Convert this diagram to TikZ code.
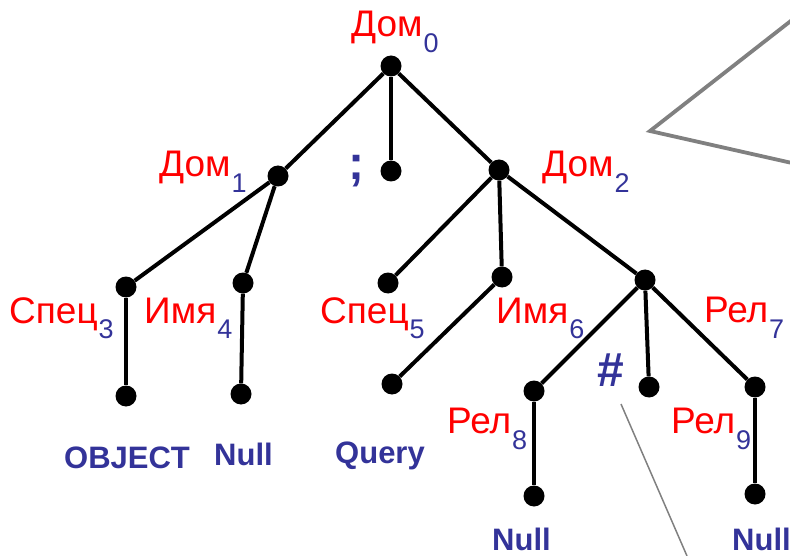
\documentclass[tikz,border=0pt]{standalone}
\usepackage{fontspec}
\setmainfont{Liberation Sans}
\definecolor{dblue}{RGB}{51,51,153}
\definecolor{lred}{RGB}{255,0,0}
\definecolor{lgray}{RGB}{128,128,128}
\newcommand{\mylbl}[2]{\textcolor{lred}{\fontsize{37}{42}\selectfont #1}\kern1pt\raisebox{-16pt}{\textcolor{dblue}{\fontsize{27}{30}\selectfont #2}}}
\begin{document}
\begin{tikzpicture}[x=1pt,y=-1pt,
  dot/.style={circle,fill=black,inner sep=0pt,minimum size=21pt},
  edge/.style={line width=4pt},
  lbl/.style={anchor=base west,inner sep=0pt},
  leaf/.style={anchor=base west,inner sep=0pt,text=dblue,font=\fontsize{31}{34}\selectfont\bfseries},
  sym/.style={anchor=base west,inner sep=0pt,text=dblue,font=\fontsize{48}{52}\selectfont\bfseries},
  gline/.style={draw=lgray,line width=3.8pt},
  thin/.style={draw=lgray,line width=1.5pt}]
\useasboundingbox (0,0) rectangle (790,556);
% dots
\node[dot] (r) at (391,66) {};
\node[dot] (d1) at (278,176) {};
\node[dot] (sc) at (391,171) {};
\node[dot] (d2) at (499,170) {};
\node[dot] (s3) at (126,287) {};
\node[dot] (i4) at (243,283) {};
\node[dot] (s5) at (388,283) {};
\node[dot] (i6) at (502,277) {};
\node[dot] (n) at (645,280) {};
\node[dot] (c3) at (126,396) {};
\node[dot] (c4) at (241,394) {};
\node[dot] (q) at (392,384) {};
\node[dot] (r8) at (534,391) {};
\node[dot] (h) at (649,387) {};
\node[dot] (r9) at (755,387) {};
\node[dot] (c8) at (534,496) {};
\node[dot] (c9) at (755,494) {};
% edges
\draw[edge] (r) -- (d1);
\draw[edge] (r) -- (sc);
\draw[edge] (r) -- (d2);
\draw[edge] (d1) -- (s3);
\draw[edge] (d1) -- (i4);
\draw[edge] (s3) -- (c3);
\draw[edge] (i4) -- (c4);
\draw[edge] (d2) -- (s5);
\draw[edge] (d2) -- (i6);
\draw[edge] (d2) -- (n);
\draw[edge] (i6) -- (q);
\draw[edge] (n) -- (r8);
\draw[edge] (n) -- (h);
\draw[edge] (n) -- (r9);
\draw[edge] (r8) -- (c8);
\draw[edge,line width=3.2pt] (r9) -- (c9);
% grey lines
\coordinate (g1) at (792,20);
\coordinate (g2) at (650,131);
\coordinate (g3) at (792,163);
\draw[gline] (g1) -- (g2) -- (g3);
\coordinate (t1) at (621,404);
\coordinate (t2) at (687,556);
\draw[thin] (t1) -- (t2);
% labels
\node[lbl] (l0) at (351,37) {\mylbl{Дом}{0}};
\node[lbl] (l1) at (159,177) {\mylbl{Дом}{1}};
\node[lbl] (l2) at (542,177) {\mylbl{Дом}{2}};
\node[lbl] (l3) at (9,323) {\mylbl{Спец}{3}};
\node[lbl] (l4) at (144,323) {\mylbl{Имя}{4}};
\node[lbl] (l5) at (320,323) {\mylbl{Спец}{5}};
\node[lbl] (l6) at (496,323) {\mylbl{Имя}{6}};
\node[lbl] (l7) at (704,322) {\mylbl{Рел}{7}};
\node[lbl] (l8) at (447,433) {\mylbl{Рел}{8}};
\node[lbl] (l9) at (671,433) {\mylbl{Рел}{9}};
\node[sym] (semi) at (348,180) {;};
\node[sym] (hash) at (597,386) {\#};
\node[leaf] (o3) at (64,468) {OBJECT};
\node[leaf] (o4) at (214,465) {Null};
\node[leaf] (o5) at (335,463) {Query};
\node[leaf] (o8) at (492,550) {Null};
\node[leaf] (o9) at (732,550) {Null};
\end{tikzpicture}
\end{document}
